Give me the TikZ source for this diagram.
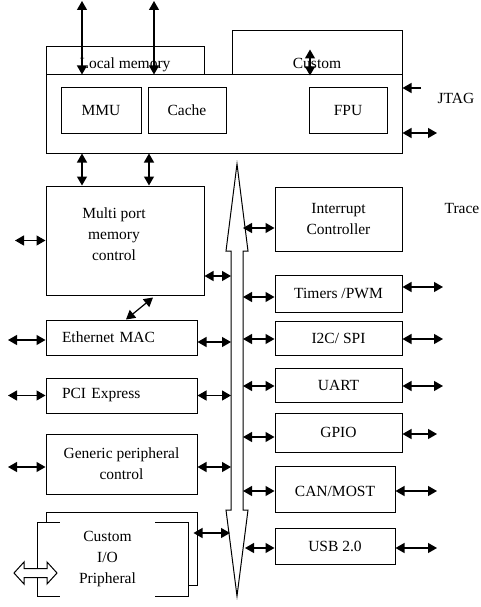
\documentclass[tikz,border=0pt]{standalone}
\usepackage{fontspec}
\setmainfont{Liberation Serif}
\usetikzlibrary{arrows.meta}

\begin{document}
\begin{tikzpicture}[x=1pt,y=-1pt]
    \tikzstyle{block}=[draw=black,line width=1pt,inner sep=3pt,font=\fontsize{15.5}{21}\selectfont]
    \tikzstyle{leftblock}=[block,text width=119pt,inner xsep=16pt,align=left]
    \tikzstyle{ext}=[font=\fontsize{15.5}{21}\selectfont]
    \tikzstyle{link}=[<->,line width=1.2pt]
    \tikzstyle{inlink}=[->,line width=1.2pt]
    \tikzset{>={Triangle[length=9pt,width=10pt]}}

    \useasboundingbox (0,0) rectangle (481,607);

    % processor core
    \node[block,minimum width=158pt,minimum height=28pt,text height=18pt,text depth=2pt] (localmemory) at (125,61) {Local memory};
    \node[block,minimum width=170pt,minimum height=44pt,text height=34pt,text depth=2pt] (custom) at (317,53) {Custom};
    \node[block,minimum width=356pt,minimum height=78pt] (processor) at (224,114) {};
    \node[block,minimum width=80pt,minimum height=45pt] (mmu) at (101,110.5) {MMU};
    \node[block,minimum width=78pt,minimum height=45pt] (cache) at (187,110.5) {Cache};
    \node[block,minimum width=78pt,minimum height=45pt] (fpu) at (348,110.5) {FPU};

    % left column
    \node[block,minimum width=158pt,minimum height=109pt] (multiport) at (125,240.5) {};
    \node[ext,align=center] (multiporttext) at (114,234.5) {Multi port\\memory\\control};
    \node[leftblock,minimum height=35pt] (ethernetmac) at (121.5,337.5) {Ethernet MAC};
    \node[leftblock,minimum height=35pt] (pciexpress) at (121.5,395.5) {PCI Express};
    \node[block,align=center,minimum width=151pt,minimum height=60pt] (generic) at (121.5,464) {Generic peripheral\\control};
    \node[block,minimum width=151pt,minimum height=73pt] (customioback) at (121.5,548.5) {};
    \node[block,fill=white,minimum width=151pt,minimum height=74pt] (customiofront) at (112.5,559) {};
    \node[ext,fill=white,align=center,minimum width=95pt,minimum height=77pt,inner sep=0pt] (customio) at (107.5,559) {Custom\\I/O\\Pripheral};
    \draw[line width=1pt,fill=white] (14,573) -- (24,562) -- (24,568.5) -- (47,568.5) -- (47,562) -- (57,573)
        -- (47,584) -- (47,577.5) -- (24,577.5) -- (24,584) -- cycle;

    % right column
    \node[block,align=center,minimum width=127pt,minimum height=64pt] (interrupt) at (338.5,219) {Interrupt\\Controller};
    \node[block,minimum width=127pt,minimum height=37pt] (timers) at (338.5,293.5) {Timers /PWM};
    \node[block,minimum width=127pt,minimum height=34pt] (i2cspi) at (338.5,338) {I2C/ SPI};
    \node[block,minimum width=127pt,minimum height=34pt] (uart) at (338.5,385) {UART};
    \node[block,minimum width=127pt,minimum height=39pt] (gpio) at (338.5,432.5) {GPIO};
    \node[block,minimum width=120pt,minimum height=46pt,text height=16pt,text depth=2pt] (canmost) at (335,489) {CAN/MOST};
    \node[block,minimum width=120pt,minimum height=36pt] (usb) at (335,546) {USB 2.0};

    \node[ext] (jtag) at (456,98) {JTAG};
    \node[ext] (trace) at (462,208) {Trace};

    % system bus
    \coordinate (bustop) at (237,164);
    \coordinate (busbottom) at (237,596);
    \coordinate (busleft) at (231,0);
    \coordinate (busright) at (243,0);
    \draw[line width=1pt,fill=white] (bustop) -- (248,251) -- (243,251) -- (243,510) -- (248,510) -- (busbottom)
        -- (226,510) -- (231,510) -- (231,251) -- (226,251) -- cycle;

    % outside pins
    \coordinate (memport1) at (82,1);
    \coordinate (memport2) at (154,1);
    \coordinate (jtagpin) at (421,88);
    \coordinate (tracepin) at (437,133);
    \coordinate (mpcpin) at (15,240.5);
    \coordinate (ethpin) at (8,340);
    \coordinate (pcipin) at (8,395.5);
    \coordinate (genpin) at (8,467);
    \coordinate (timerpin) at (443,287);
    \coordinate (i2cpin) at (443,339);
    \coordinate (uartpin) at (443,386);
    \coordinate (gpiopin) at (437,434);
    \coordinate (canpin) at (437,491);
    \coordinate (usbpin) at (437,548);

    \draw[link] (memport1) -- (memport1 |- processor.north);
    \draw[link] (memport2) -- (memport2 |- processor.north);
    \draw[link] ([xshift=-7pt,yshift=26pt]custom.south) -- ([xshift=-7pt]custom.south);
    \draw[inlink] (jtagpin) -- (jtagpin -| processor.east);
    \draw[link] (tracepin -| processor.east) -- (tracepin);
    \draw[link] ([xshift=-142pt]processor.south) -- (multiport.north -| memport1);
    \draw[link] ([xshift=-75pt]processor.south) -- ([xshift=24pt]multiport.north);

    \draw[link] (mpcpin) -- (multiport.west);
    \draw[link] ([yshift=-35.5pt]multiport.east) -- ([yshift=-35.5pt]multiport.east -| busleft);
    \draw[link] ([xshift=4.5pt]ethernetmac.north) -- ([xshift=28pt,yshift=-2pt]multiport.south);
    \draw[link] (ethpin) -- (ethpin -| ethernetmac.west);
    \draw[link] ([yshift=-4.5pt]ethernetmac.east) -- ([yshift=-4.5pt]ethernetmac.east -| busleft);
    \draw[link] (pcipin) -- (pciexpress.west);
    \draw[link] (pciexpress.east) -- (pciexpress.east -| busleft);
    \draw[link] (genpin) -- (genpin -| generic.west);
    \draw[link] ([yshift=-3pt]generic.east) -- ([yshift=-3pt]generic.east -| busleft);
    \draw[link] ([xshift=5pt,yshift=26pt]customiofront.east) -- ([xshift=-1pt,yshift=26pt]customiofront.east -| busleft);

    \draw[link] ([yshift=-9pt]interrupt.west -| busright) -- ([yshift=-9pt]interrupt.west);
    \draw[link] ([yshift=-3.5pt]timers.west -| busright) -- ([yshift=-3.5pt]timers.west);
    \draw[link] (timerpin -| timers.east) -- (timerpin);
    \draw[link] ([yshift=-1pt]i2cspi.west -| busright) -- ([yshift=-1pt]i2cspi.west);
    \draw[link] (i2cpin -| i2cspi.east) -- (i2cpin);
    \draw[link] ([yshift=-1pt]uart.west -| busright) -- ([yshift=-1pt]uart.west);
    \draw[link] (uartpin -| uart.east) -- (uartpin);
    \draw[link] ([yshift=-4.5pt]gpio.west -| busright) -- ([yshift=-4.5pt]gpio.west);
    \draw[link] (gpiopin -| gpio.east) -- (gpiopin);
    \draw[link] ([yshift=-2pt]canmost.west -| busright) -- ([yshift=-2pt]canmost.west);
    \draw[link] (canpin -| canmost.east) -- (canpin);
    \draw[link] ([xshift=2pt,yshift=-2pt]usb.west -| busright) -- ([yshift=-2pt]usb.west);
    \draw[link] (usbpin -| usb.east) -- (usbpin);

\end{tikzpicture}
\end{document}
